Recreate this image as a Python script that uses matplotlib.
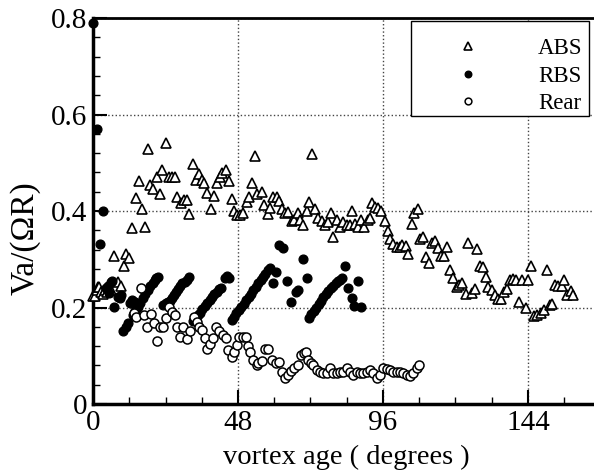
import matplotlib.pyplot as plt
from matplotlib.patches import Rectangle
from matplotlib.ticker import MultipleLocator

plt.rcParams['font.family'] = ['Liberation Serif', 'DejaVu Serif']

# ABS
abs_x = [0.0, 0.7, 1.2, 1.6, 2.1, 2.6, 3.4, 4.0, 4.6, 5.2, 5.8, 7.0, 8.4, 9.3, 10.2, 10.9,
         12.0, 13.0, 14.2, 15.1, 16.1, 17.1, 18.1, 18.9, 19.9, 21.1, 22.1, 23.0, 24.0, 25.1,
         26.1, 27.1, 27.9, 29.0, 30.1, 31.1, 31.9, 33.0, 34.1, 35.1, 36.0, 36.9, 37.7, 39.0,
         40.0, 40.9, 41.9, 42.8, 43.9, 44.9, 45.9, 46.8, 47.7, 48.8, 49.8, 50.9, 51.8, 52.7,
         53.7, 54.4, 55.8, 56.7, 57.8, 58.6, 59.7, 60.8, 61.6, 62.7, 63.5, 64.7, 65.8, 66.6,
         67.7, 68.5, 69.6, 70.7, 71.6, 72.6, 73.5, 74.6, 75.7, 76.8, 77.7, 78.7, 79.5, 80.7,
         81.8, 82.9, 84.0, 85.1, 85.6, 86.7, 87.8, 88.7, 89.8, 90.9, 91.8, 92.4, 93.5, 94.5,
         95.4, 96.5, 97.6, 98.4, 99.4, 100.5, 101.6, 102.4, 103.5, 104.4, 105.5, 106.4, 107.5,
         108.2, 109.3, 110.4, 111.2, 112.3, 113.2, 114.1, 115.2, 116.3, 117.3, 118.2, 119.3,
         120.4, 121.2, 122.3, 123.4, 124.3, 125.3, 126.4, 127.2, 128.1, 129.2, 130.2, 130.9,
         132.0, 133.1, 134.0, 135.1, 136.2, 137.1, 137.9, 139.0, 140.1, 140.9, 141.9, 143.2,
         144.1, 145.0, 146.1, 147.1, 148.3, 149.4, 150.2, 151.3, 152.0, 152.9, 154.0, 155.1,
         155.9, 157.0, 158.2, 158.9]
abs_y = [0.223, 0.224, 0.236, 0.243, 0.242, 0.232, 0.228, 0.236, 0.232, 0.240, 0.237, 0.307,
         0.253, 0.245, 0.285, 0.310, 0.302, 0.365, 0.426, 0.462, 0.404, 0.366, 0.528, 0.453,
         0.445, 0.470, 0.435, 0.486, 0.540, 0.470, 0.470, 0.471, 0.428, 0.416, 0.423, 0.423,
         0.393, 0.497, 0.464, 0.476, 0.464, 0.457, 0.437, 0.404, 0.432, 0.457, 0.470, 0.478,
         0.485, 0.463, 0.425, 0.401, 0.392, 0.392, 0.396, 0.419, 0.430, 0.459, 0.513, 0.435,
         0.440, 0.412, 0.394, 0.407, 0.430, 0.428, 0.421, 0.405, 0.396, 0.398, 0.379, 0.381,
         0.395, 0.381, 0.370, 0.400, 0.419, 0.518, 0.405, 0.385, 0.379, 0.371, 0.378, 0.395,
         0.347, 0.381, 0.366, 0.378, 0.371, 0.371, 0.399, 0.374, 0.366, 0.381, 0.366, 0.381,
         0.386, 0.416, 0.409, 0.406, 0.399, 0.380, 0.359, 0.343, 0.332, 0.326, 0.326, 0.329,
         0.327, 0.310, 0.373, 0.396, 0.405, 0.341, 0.346, 0.305, 0.293, 0.333, 0.337, 0.323,
         0.307, 0.307, 0.326, 0.277, 0.262, 0.242, 0.246, 0.250, 0.229, 0.334, 0.230, 0.238,
         0.321, 0.286, 0.284, 0.263, 0.243, 0.236, 0.226, 0.217, 0.217, 0.233, 0.238, 0.258,
         0.260, 0.257, 0.212, 0.257, 0.200, 0.256, 0.286, 0.182, 0.184, 0.188, 0.195, 0.278,
         0.205, 0.207, 0.247, 0.245, 0.245, 0.258, 0.226, 0.235, 0.226]

# RBS
rbs_x = [0.1, 1.2, 2.3, 3.2, 4.3, 4.8, 5.3, 5.9, 6.4, 7.0, 8.2, 8.9, 9.3,
         10.0, 10.8, 11.6, 12.2, 12.8, 13.2, 13.9, 14.0, 14.9, 15.7, 16.5, 17.3, 18.1, 18.9,
         19.7, 20.4, 21.0, 21.6,
         23.3, 24.0, 24.7, 25.4, 26.1, 26.8, 27.5, 28.2, 28.9, 29.6, 30.3, 31.0, 31.9,
         33.0, 33.8, 34.6, 35.4, 36.2, 37.0, 37.8, 38.6, 39.4, 40.2, 41.0, 41.8, 42.5, 43.7,
         44.4, 45.0,
         45.9, 46.7, 47.5, 48.3, 49.1, 49.9, 50.7, 51.5, 52.3, 53.1, 53.9, 54.7, 55.5, 56.3,
         57.1, 57.9, 58.6, 59.7, 60.6, 61.6, 62.9, 64.3, 65.5, 67.1, 68.0, 69.6, 70.7,
         71.5, 72.3, 73.1, 73.9, 74.7, 75.5, 76.3, 77.1, 77.9, 78.7, 79.5, 80.3, 81.1, 81.8,
         82.5, 83.4, 84.5, 85.6, 86.5, 87.6, 88.7]
rbs_y = [0.790, 0.569, 0.331, 0.399, 0.240, 0.244, 0.231, 0.253, 0.255, 0.202, 0.222, 0.219,
         0.225,
         0.151, 0.160, 0.167, 0.209, 0.216, 0.184, 0.212, 0.193, 0.201, 0.210, 0.219, 0.228,
         0.236, 0.244, 0.251, 0.258, 0.262, 0.264,
         0.205, 0.209, 0.212, 0.214, 0.220, 0.226, 0.232, 0.238, 0.244, 0.250, 0.252, 0.258,
         0.264,
         0.172, 0.178, 0.184, 0.189, 0.196, 0.203, 0.209, 0.215, 0.221, 0.227, 0.233, 0.238,
         0.240, 0.262, 0.265, 0.262,
         0.175, 0.181, 0.188, 0.195, 0.201, 0.208, 0.215, 0.222, 0.229, 0.236, 0.243, 0.250,
         0.256, 0.263, 0.270, 0.277, 0.281, 0.250, 0.274, 0.330, 0.323, 0.254, 0.212, 0.233,
         0.236, 0.300, 0.262,
         0.179, 0.186, 0.193, 0.200, 0.207, 0.214, 0.221, 0.228, 0.234, 0.240, 0.245, 0.250,
         0.254, 0.258, 0.262, 0.287, 0.240, 0.220, 0.204, 0.255, 0.202]

# Rear
rear_x = [13.5, 14.2, 15.8, 16.9, 18.0, 19.1, 20.2, 21.1, 22.2, 23.3, 24.2, 25.3, 26.2, 27.1,
          27.9, 28.8, 29.9, 31.0, 32.1, 33.4, 34.5, 35.2, 36.0, 37.1, 37.8, 38.7, 39.6, 40.7,
          41.8, 42.9, 44.0, 44.8, 45.9, 46.7, 47.6, 48.4, 49.5, 50.5, 51.3, 52.0, 53.1, 54.2,
          54.7, 55.8, 56.9, 57.8, 59.1, 60.5, 61.6, 62.7, 63.6, 64.4, 65.5, 66.6, 67.8, 68.9,
          69.8, 70.5, 71.3, 72.1, 72.9, 74.0, 75.1, 76.2, 77.4, 78.5, 79.5, 80.7, 81.8, 82.9,
          84.0, 85.1, 86.2, 87.3, 88.4, 89.5, 90.6, 91.7, 92.8, 93.9, 95.0, 96.1, 97.2, 98.3,
          99.4, 100.5, 101.6, 102.7, 103.8, 104.9, 106.0, 107.1, 107.8]
rear_y = [0.188, 0.181, 0.240, 0.184, 0.160, 0.186, 0.167, 0.131, 0.160, 0.159, 0.178, 0.202,
          0.190, 0.184, 0.159, 0.139, 0.159, 0.135, 0.151, 0.181, 0.170, 0.160, 0.153, 0.136,
          0.115, 0.124, 0.136, 0.159, 0.151, 0.144, 0.136, 0.112, 0.098, 0.108, 0.122, 0.139,
          0.139, 0.139, 0.120, 0.108, 0.091, 0.081, 0.084, 0.089, 0.115, 0.115, 0.091, 0.084,
          0.088, 0.067, 0.053, 0.060, 0.068, 0.074, 0.081, 0.102, 0.106, 0.107, 0.091, 0.085,
          0.081, 0.070, 0.067, 0.064, 0.064, 0.074, 0.064, 0.064, 0.067, 0.067, 0.074, 0.067,
          0.060, 0.067, 0.064, 0.064, 0.067, 0.070, 0.064, 0.053, 0.060, 0.074, 0.073, 0.070,
          0.067, 0.067, 0.067, 0.064, 0.060, 0.057, 0.064, 0.074, 0.080]

x_ticks = [0, 48, 96, 144]
y_ticks = [0, 0.2, 0.4, 0.6, 0.8]
y_tick_labels = ['0', '0.2', '0.4', '0.6', '0.8']

W, H = 594, 473
fig = plt.figure(figsize=(W / 100, H / 100), dpi=100)
ax = fig.add_axes([93 / W, 69 / H, 507.5 / W, 386 / H])

ax.plot(abs_x, abs_y, '^', ls='none', mfc='white', mec='black', ms=7, mew=1.2,
        label='ABS', clip_on=False, zorder=3)
ax.plot(rbs_x, rbs_y, 'o', ls='none', mfc='black', mec='black', ms=6.3, mew=1,
        label='RBS', clip_on=False, zorder=3)
ax.plot(rear_x, rear_y, 'o', ls='none', mfc='white', mec='black', ms=6.5, mew=1.1,
        label='Rear', clip_on=False, zorder=3)

ax.set_xlim(0, 168)
ax.set_ylim(0, 0.8)
ax.set_xticks(x_ticks)
ax.set_yticks(y_ticks)
ax.set_yticklabels(y_tick_labels)
ax.xaxis.set_minor_locator(MultipleLocator(12))
ax.yaxis.set_minor_locator(MultipleLocator(0.04))
ax.tick_params(which='both', direction='in', labelsize=21, pad=4)
ax.tick_params(which='major', length=10, width=1.5)
ax.tick_params(which='minor', length=5, width=1)
ax.set_axisbelow(True)
ax.grid(True, which='major', ls=':', lw=1, color='#444444')

ax.spines['left'].set_linewidth(2.5)
ax.spines['bottom'].set_linewidth(2.5)
ax.spines['top'].set_linewidth(2)
ax.spines['right'].set_visible(False)

ax.set_xlabel('vortex age ( degrees )', fontsize=20.5, labelpad=7)
ax.set_ylabel('Va/(ΩR)', fontsize=24)
ax.yaxis.set_label_coords(-0.104, 0.43)

# legend box drawn separately so the rows can sit low in it
box = Rectangle((411 / W, 1 - 116.5 / H), 178 / W, 95 / H, transform=fig.transFigure,
                facecolor='white', edgecolor='black', lw=1, zorder=4, clip_on=False)
ax.add_artist(box)
leg = ax.legend(loc='center left', bbox_to_anchor=(445 / W, 1 - 76 / H),
                bbox_transform=fig.transFigure, fontsize=16.5, frameon=False,
                handlelength=2, handletextpad=2.05, borderpad=0,
                labelspacing=0.3, markerscale=0.75, borderaxespad=0)
leg.set_zorder(5)

fig.savefig('out.png', dpi=100)
